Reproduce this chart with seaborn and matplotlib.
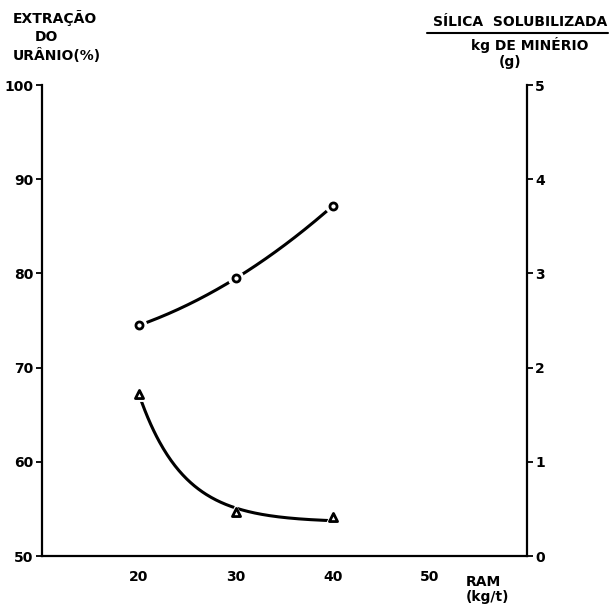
import numpy as np
import pandas as pd
import matplotlib
matplotlib.use("Agg")
import matplotlib.pyplot as plt
import seaborn as sns

# ---- data ----
ram = [20, 30, 40]                       # RAM (kg/t)
extracao = [74.5, 79.5, 87.2]            # Extração do urânio (%)  -> circles, left axis
silica = [1.72, 0.47, 0.41]              # Sílica solubilizada / kg de minério (g) -> triangles, right axis
x_ticks = [20, 30, 40, 50]
y_left_ticks = [50, 60, 70, 80, 90, 100]
y_right_ticks = [0, 1, 2, 3, 4, 5]

sns.set_theme(style="white")
plt.rcParams['font.family'] = ['DejaVu Sans']
plt.rcParams['text.color'] = 'black'
plt.rcParams['xtick.color'] = 'black'
plt.rcParams['ytick.color'] = 'black'

fig = plt.figure(figsize=(6.12, 6.06), dpi=100)
ax = fig.add_axes([0.0686, 0.0825, 0.7925, 0.777])
ax2 = ax.twinx()

# smooth curves derived from the points
xs = np.linspace(ram[0], ram[-1], 200)
coef = np.polyfit(ram, extracao, 2)
df_c = pd.DataFrame({"x": xs, "y": np.polyval(coef, xs)})

# exponential decay (least squares, fixed decay rate)
k = 0.22
basis = np.exp(-k * (np.array(ram) - ram[0]))
b, c = np.polyfit(basis, silica, 1)
df_t = pd.DataFrame({"x": xs, "y": c + b * np.exp(-k * (xs - ram[0]))})

sns.lineplot(data=df_c, x="x", y="y", ax=ax, color="black", linewidth=2.2, zorder=2)
sns.lineplot(data=df_t, x="x", y="y", ax=ax2, color="black", linewidth=2.2, zorder=2)

pts_c = pd.DataFrame({"x": ram, "y": extracao})
pts_t = pd.DataFrame({"x": ram, "y": silica})
# white halos to create gaps around markers
sns.scatterplot(data=pts_c, x="x", y="y", ax=ax, s=140, color="white", edgecolor="none", zorder=3)
sns.scatterplot(data=pts_c, x="x", y="y", ax=ax, s=26, marker="o", facecolor="white",
                edgecolor="black", linewidth=2, zorder=4)
sns.scatterplot(data=pts_t, x="x", y="y", ax=ax2, s=130, marker="^", color="white", edgecolor="none", zorder=3)
sns.scatterplot(data=pts_t, x="x", y="y", ax=ax2, s=34, marker="^", facecolor="white",
                edgecolor="black", linewidth=2, zorder=4)

ax.set_xlim(10, 60)
ax.set_ylim(50, 100)
ax2.set_ylim(0, 5)
ax.set_xticks(x_ticks)
ax.set_yticks(y_left_ticks)
ax2.set_yticks(y_right_ticks)
ax.set_xticklabels([str(v) for v in x_ticks], fontweight="bold", fontsize=10, color="black")
ax.set_yticklabels([str(v) for v in y_left_ticks], fontweight="bold", fontsize=10, color="black")
ax2.set_yticklabels([str(v) for v in y_right_ticks], fontweight="bold", fontsize=10, color="black")
ax.set_xlabel("")
ax.set_ylabel("")
ax2.set_ylabel("")

for a in (ax, ax2):
    a.spines["top"].set_visible(False)
    for s in ("left", "right", "bottom"):
        a.spines[s].set_color("black")
        a.spines[s].set_linewidth(1.6)
    a.grid(False)
ax.spines["right"].set_visible(False)
ax2.spines["left"].set_visible(False)
ax2.spines["bottom"].set_visible(False)

ax.tick_params(axis="x", direction="in", length=4, width=1.3, color="black", pad=10)
ax.tick_params(axis="y", direction="out", length=4, width=1.3, color="black", pad=2, left=True)
ax2.tick_params(axis="y", direction="out", length=4, width=1.3, color="black", pad=2, right=True)

fw = dict(fontweight="bold", fontsize=10, color="black")
fig.text(13 / 612, 1 - 18 / 606, "EXTRAÇÃO", ha="left", va="center", **fw)
fig.text(35 / 612, 1 - 37 / 606, "DO", ha="left", va="center", **fw)
fig.text(13 / 612, 1 - 55 / 606, "URÂNIO(%)", ha="left", va="center", **fw)

fig.text(520 / 612, 1 - 22 / 606, "SÍLICA  SOLUBILIZADA", ha="center", va="center", **fw)
fig.add_artist(plt.Line2D([427 / 612, 608 / 612], [1 - 33 / 606, 1 - 33 / 606],
                          color="black", linewidth=1.5))
fig.text(530 / 612, 1 - 45 / 606, "kg DE MINÉRIO", ha="center", va="center", **fw)
fig.text(510 / 612, 1 - 62 / 606, "(g)", ha="center", va="center", **fw)

fig.text(466 / 612, 1 - 582 / 606, "RAM", ha="left", va="center", **fw)
fig.text(466 / 612, 1 - 597 / 606, "(kg/t)", ha="left", va="center", **fw)

fig.savefig("out.png", dpi=100, facecolor="white")
